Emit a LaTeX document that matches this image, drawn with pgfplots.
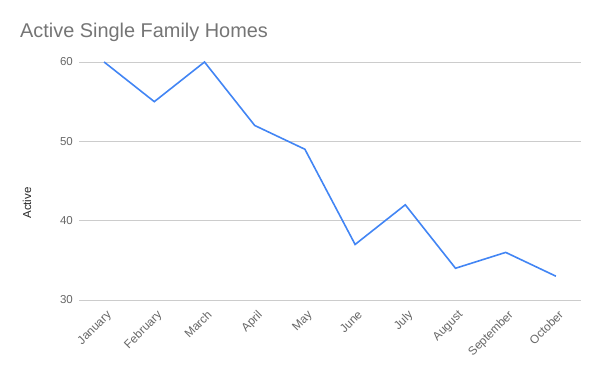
\documentclass[border=0pt]{standalone}
\usepackage{pgfplots}
\pgfplotsset{compat=1.18}
\usepackage{fontspec}
\setmainfont{Liberation Sans}
\definecolor{lineblue}{HTML}{4285F4}
\definecolor{titlegray}{HTML}{757575}
\definecolor{tickgray}{HTML}{666666}
\definecolor{gridgray}{HTML}{CCCCCC}
\begin{document}
\begin{tikzpicture}[x=1pt,y=1pt]
\useasboundingbox (0,0) rectangle (600,371);
\node[anchor=base west, text=titlegray, font=\fontsize{19.9}{23}\selectfont, inner sep=0] at (20,333) {Active Single Family Homes};
\node[rotate=90, anchor=center, font=\fontsize{11.5}{13}\selectfont, text=black!85, inner sep=0] at (27,168) {Active};
\begin{axis}[
  at={(79pt,71pt)}, anchor=south west,
  scale only axis, width=502pt, height=238pt,
  xmin=-0.5, xmax=9.5, ymin=30, ymax=60,
  axis line style={draw=none},
  tick style={draw=none},
  ytick={30,40,50,60},
  ymajorgrids, grid style={gridgray, line width=0.8pt},
  xtick={0,...,9},
  xticklabels={January,February,March,April,May,June,July,August,September,October},
  xticklabel style={xshift=2pt, yshift=-8pt, rotate=45, anchor=north east, font=\fontsize{11.8}{13}\selectfont, text=tickgray, inner sep=1pt},
  yticklabel style={font=\fontsize{11.5}{13}\selectfont, text=tickgray, inner sep=0pt, xshift=-6pt},
  /pgf/number format/assume math mode=true,
  clip=false,
]
\addplot[lineblue, line width=1.6pt, mark=none] coordinates {
(0,60) (1,55) (2,60) (3,52) (4,49) (5,37) (6,42) (7,34) (8,36) (9,33)
};
\end{axis}
\end{tikzpicture}
\end{document}
